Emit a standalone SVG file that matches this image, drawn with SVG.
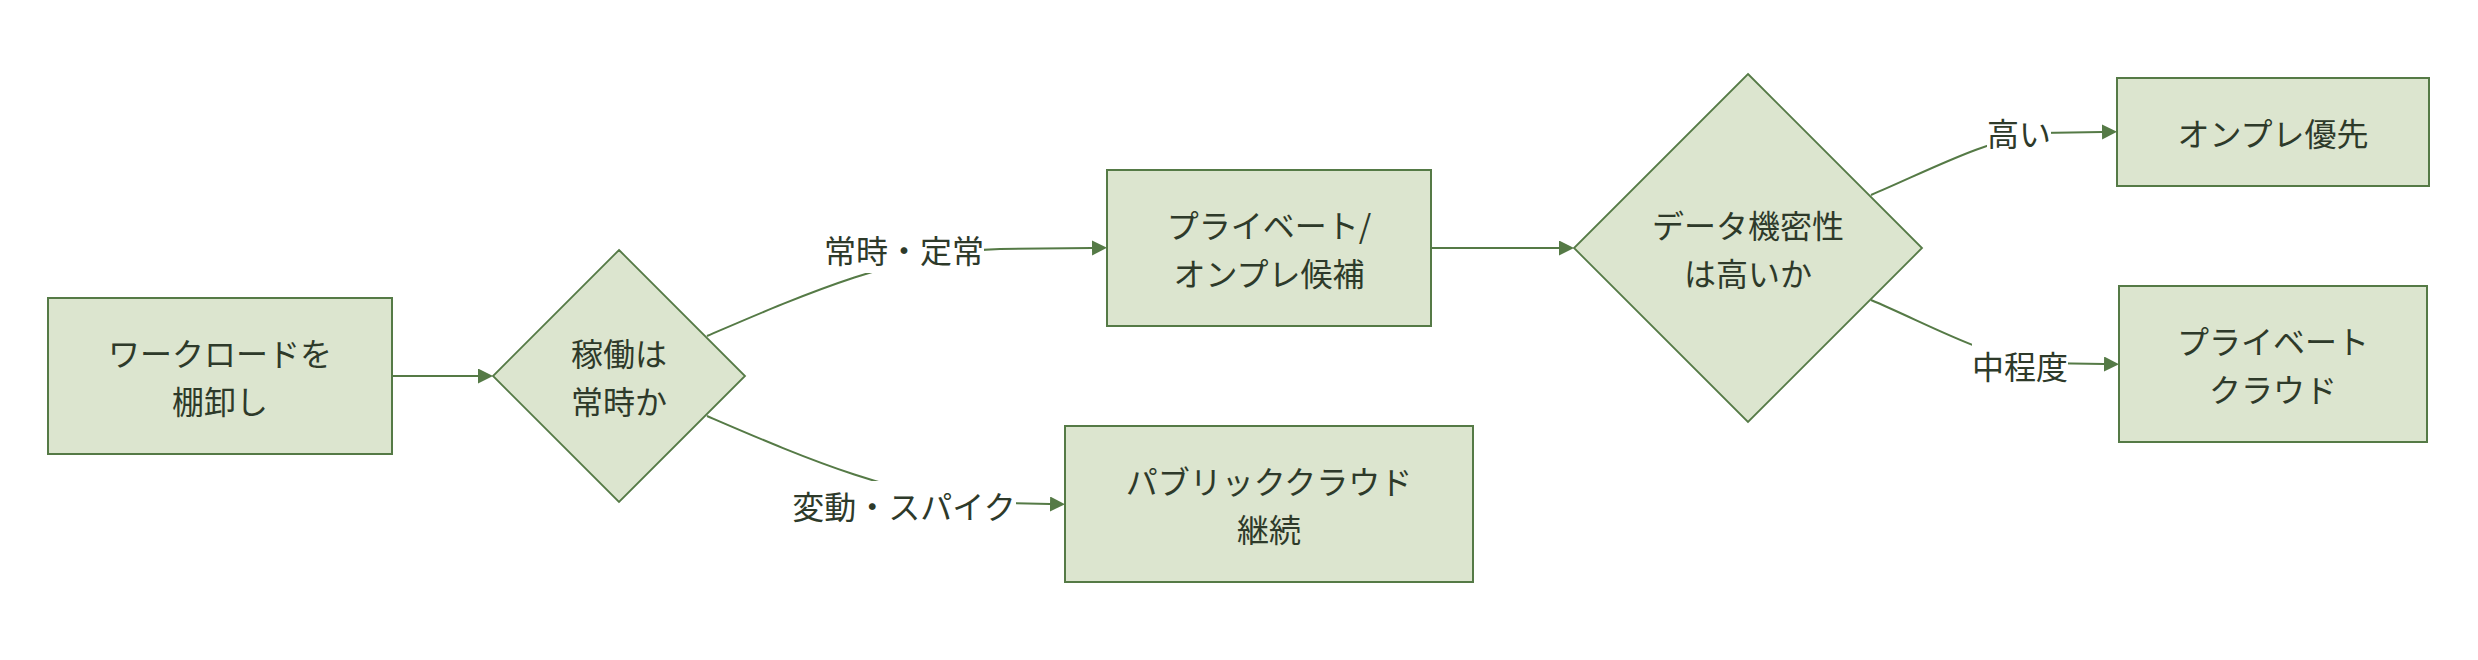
<svg xmlns="http://www.w3.org/2000/svg" width="2478" height="660" viewBox="0 0 2478 660">
<defs>
<style>
.node{fill:#dce5cf;stroke:#557a46;stroke-width:2}
.dia{fill:#dce5cf;stroke:#557a46;stroke-width:1.8}
.edge{fill:none;stroke:#557a46;stroke-width:2}
.t{font-family:"Noto Sans CJK JP","Noto Sans",sans-serif;font-size:32px;fill:#2e3a2a;text-anchor:middle;dominant-baseline:central}
.lblbg{fill:#ffffff;stroke:none}
</style>
<marker id="arr" markerUnits="userSpaceOnUse" markerWidth="16" markerHeight="16" refX="0" refY="7.5" orient="auto">
<path d="M0,0 L15,7.5 L0,15 z" fill="#557a46"/>
</marker>
</defs>
<rect width="2478" height="660" fill="#ffffff"/>
<g id="connectors">
<path class="edge" d="M392,376 L478,376" marker-end="url(#arr)"/>
<path class="edge" d="M707,336 C800,296 900,252 1000,249 L1092,248" marker-end="url(#arr)"/>
<path class="edge" d="M707,416 C800,456 900,500 1000,503 L1050,504" marker-end="url(#arr)"/>
<path class="edge" d="M1431,248 L1559,248" marker-end="url(#arr)"/>
<path class="edge" d="M1871,195 C1930,170 1985,140 2040,133 L2102,132" marker-end="url(#arr)"/>
<path class="edge" d="M1871,300 C1930,325 1985,357 2040,363 L2104,364" marker-end="url(#arr)"/>
<rect class="lblbg" x="824" y="226" width="160" height="47"/>
<text class="t" x="904" y="249">常時・定常</text>
<rect class="lblbg" x="792" y="481" width="224" height="48"/>
<text class="t" x="904" y="505">変動・スパイク</text>
<rect class="lblbg" x="1987" y="109" width="64" height="46"/>
<text class="t" x="2019" y="132">高い</text>
<rect class="lblbg" x="1972" y="341" width="96" height="48"/>
<text class="t" x="2020" y="365">中程度</text>
</g>
<g id="node-inventory">
<rect class="node" x="48" y="298" width="344" height="156"/>
<text class="t" x="220" y="352">ワークロードを</text>
<text class="t" x="220" y="400">棚卸し</text>
</g>
<g id="node-always">
<polygon class="dia" points="619,250 745,376 619,502 493,376"/>
<text class="t" x="619" y="352">稼働は</text>
<text class="t" x="619" y="400">常時か</text>
</g>
<g id="node-private-candidate">
<rect class="node" x="1107" y="170" width="324" height="156"/>
<text class="t" x="1269" y="224">プライベート/</text>
<text class="t" x="1269" y="272">オンプレ候補</text>
</g>
<g id="node-public">
<rect class="node" x="1065" y="426" width="408" height="156"/>
<text class="t" x="1269" y="480">パブリッククラウド</text>
<text class="t" x="1269" y="528">継続</text>
</g>
<g id="node-sensitivity">
<polygon class="dia" points="1748,74 1922,248 1748,422 1574,248"/>
<text class="t" x="1748" y="224">データ機密性</text>
<text class="t" x="1748" y="272">は高いか</text>
</g>
<g id="node-onprem">
<rect class="node" x="2117" y="78" width="312" height="108"/>
<text class="t" x="2273" y="132">オンプレ優先</text>
</g>
<g id="node-private-cloud">
<rect class="node" x="2119" y="286" width="308" height="156"/>
<text class="t" x="2273" y="340">プライベート</text>
<text class="t" x="2273" y="388">クラウド</text>
</g>
</svg>
